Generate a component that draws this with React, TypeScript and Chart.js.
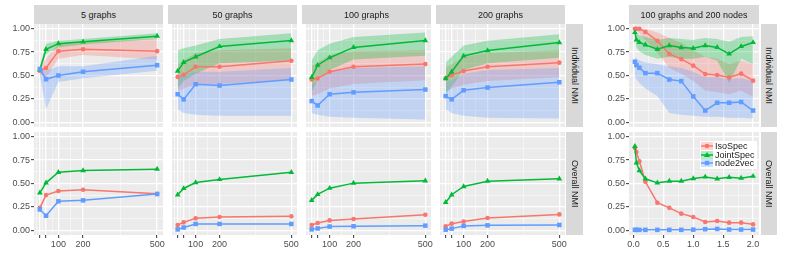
import React, { useEffect, useRef } from 'react';
import { Chart, registerables } from 'chart.js';

Chart.register(...registerables);

// ---------------- data ----------------
const GRAPH_SIZES = [25, 50, 100, 200, 500];
const LAMBDAS = [0.025, 0.05, 0.1, 0.2, 0.4, 0.6, 0.8, 1.0, 1.2, 1.4, 1.6, 1.8, 2.0];

const COLUMN_TITLES = ['5 graphs', '50 graphs', '100 graphs', '200 graphs'];
const RIGHT_TITLE = '100 graphs and 200 nodes';
const ROW_TITLES = ['Individual NMI', 'Overall NMI'];
const METHODS = ['IsoSpec', 'JointSpec', 'node2vec'];

const Y_MAJOR = [0, 0.25, 0.5, 0.75, 1];
const Y_MINOR = [0.125, 0.375, 0.625, 0.875];
const SIZE_MAJOR = [25, 50, 100, 200, 500];
const SIZE_LABELED = [100, 200, 500];
const SIZE_MINOR = [12.5, 37.5, 75, 150, 350];
const LAMBDA_MAJOR = [0, 0.5, 1, 1.5, 2];
const LAMBDA_MINOR = [0.25, 0.75, 1.25, 1.75];

// Individual NMI, 5 graphs
const iso5 = [0.55, 0.58, 0.76, 0.78, 0.76];
const iso5Lo = [0.51, 0.48, 0.68, 0.72, 0.67];
const iso5Hi = [0.58, 0.68, 0.84, 0.86, 0.89];
const joint5 = [0.56, 0.78, 0.84, 0.86, 0.92];
const joint5Lo = [0.54, 0.73, 0.8, 0.83, 0.89];
const joint5Hi = [0.6, 0.84, 0.87, 0.89, 0.95];
const n2v5 = [0.57, 0.46, 0.5, 0.54, 0.61];
const n2v5Lo = [0.5, 0.14, 0.43, 0.47, 0.55];
const n2v5Hi = [0.61, 0.55, 0.6, 0.6, 0.71];

// Individual NMI, 50 graphs
const iso50 = [0.485, 0.507, 0.593, 0.593, 0.658];
const iso50Lo = [0.33, 0.36, 0.4, 0.41, 0.45];
const iso50Hi = [0.62, 0.66, 0.74, 0.77, 0.79];
const joint50 = [0.547, 0.64, 0.7, 0.81, 0.874];
const joint50Lo = [0.36, 0.44, 0.52, 0.63, 0.66];
const joint50Hi = [0.77, 0.79, 0.82, 0.89, 0.95];
const n2v50 = [0.3, 0.245, 0.407, 0.393, 0.457];
const n2v50Lo = [0.14, 0.1, 0.08, 0.07, 0.07];
const n2v50Hi = [0.48, 0.5, 0.54, 0.54, 0.58];

// Individual NMI, 100 graphs
const iso100 = [0.457, 0.468, 0.54, 0.593, 0.622];
const iso100Lo = [0.28, 0.3, 0.36, 0.41, 0.45];
const iso100Hi = [0.6, 0.64, 0.72, 0.76, 0.77];
const joint100 = [0.48, 0.61, 0.69, 0.8, 0.874];
const joint100Lo = [0.33, 0.45, 0.56, 0.67, 0.71];
const joint100Hi = [0.66, 0.77, 0.84, 0.91, 0.96];
const n2v100 = [0.227, 0.18, 0.3, 0.32, 0.35];
const n2v100Lo = [0.1, 0.08, 0.06, 0.05, 0.03];
const n2v100Hi = [0.4, 0.44, 0.54, 0.58, 0.6];

// Individual NMI, 200 graphs
const iso200 = [0.47, 0.504, 0.547, 0.593, 0.637];
const iso200Lo = [0.33, 0.36, 0.4, 0.44, 0.48];
const iso200Hi = [0.58, 0.62, 0.7, 0.74, 0.77];
const joint200 = [0.468, 0.54, 0.709, 0.766, 0.852];
const joint200Lo = [0.3, 0.38, 0.56, 0.63, 0.69];
const joint200Hi = [0.64, 0.7, 0.82, 0.87, 0.94];
const n2v200 = [0.28, 0.245, 0.342, 0.371, 0.428];
const n2v200Lo = [0.14, 0.1, 0.07, 0.05, 0.04];
const n2v200Hi = [0.42, 0.45, 0.52, 0.56, 0.58];

// Overall NMI
const iso5Overall = [0.24, 0.376, 0.42, 0.433, 0.39];
const joint5Overall = [0.4, 0.507, 0.62, 0.638, 0.653];
const n2v5Overall = [0.223, 0.156, 0.31, 0.32, 0.387];
const iso50Overall = [0.057, 0.085, 0.128, 0.142, 0.149];
const joint50Overall = [0.38, 0.447, 0.51, 0.543, 0.62];
const n2v50Overall = [0.01, 0.03, 0.068, 0.068, 0.068];
const iso100Overall = [0.057, 0.078, 0.106, 0.121, 0.167];
const joint100Overall = [0.32, 0.383, 0.45, 0.504, 0.529];
const n2v100Overall = [0.01, 0.02, 0.04, 0.043, 0.05];
const iso200Overall = [0.043, 0.071, 0.093, 0.132, 0.17];
const joint200Overall = [0.298, 0.38, 0.468, 0.525, 0.55];
const n2v200Overall = [0.007, 0.018, 0.047, 0.053, 0.057];

// 100 graphs and 200 nodes (x = lambda)
const isoLam = [1.0, 1.0, 1.0, 0.965, 0.87, 0.73, 0.675, 0.605, 0.515, 0.505, 0.48, 0.52, 0.445];
const isoLamLo = [0.99, 0.98, 0.95, 0.88, 0.74, 0.58, 0.52, 0.44, 0.34, 0.32, 0.3, 0.34, 0.27];
const isoLamHi = [1.0, 1.0, 1.0, 1.0, 0.96, 0.9, 0.85, 0.77, 0.7, 0.68, 0.62, 0.66, 0.62];
const jointLam = [0.96, 0.88, 0.853, 0.827, 0.78, 0.82, 0.798, 0.791, 0.82, 0.8, 0.73, 0.81, 0.853];
const jointLamLo = [0.92, 0.8, 0.76, 0.72, 0.68, 0.7, 0.68, 0.68, 0.7, 0.66, 0.42, 0.68, 0.62];
const jointLamHi = [0.98, 0.95, 0.93, 0.91, 0.88, 0.9, 0.89, 0.88, 0.9, 0.89, 0.86, 0.91, 0.92];
const n2vLam = [0.647, 0.611, 0.583, 0.525, 0.525, 0.457, 0.44, 0.277, 0.126, 0.209, 0.209, 0.217, 0.126];
const n2vLamLo = [0.5, 0.46, 0.42, 0.36, 0.28, 0.1, 0.08, 0.07, 0.06, 0.06, 0.05, 0.05, 0.04];
const n2vLamHi = [0.7, 0.68, 0.66, 0.64, 0.62, 0.6, 0.58, 0.54, 0.48, 0.48, 0.46, 0.47, 0.44];
const isoLamOverall = [0.88, 0.837, 0.738, 0.518, 0.295, 0.24, 0.178, 0.143, 0.089, 0.1, 0.082, 0.082, 0.064];
const jointLamOverall = [0.898, 0.72, 0.638, 0.55, 0.507, 0.525, 0.525, 0.553, 0.57, 0.55, 0.567, 0.557, 0.578];
const n2vLamOverall = [0.005, 0.005, 0.005, 0.005, 0.005, 0.005, 0.005, 0.007, 0.012, 0.015, 0.008, 0.008, 0.008];

// ---------------- style ----------------
const FONT = '"Liberation Sans", Arial, Helvetica, sans-serif';
const COLORS = ['#F8766D', '#00BA38', '#619CFF'];
const RIBBON = ['rgba(248,118,109,0.3)', 'rgba(0,186,56,0.3)', 'rgba(97,156,255,0.3)'];
const SHAPES = ['circle', 'triangle', 'rect'];
const RADII = [2.3, 3.3, 3.2];

const COL_LEFT = [34, 168, 302, 436];
const PANEL_W = 129;
const ROW_TOP = [24, 132];
const PANEL_H = 103;
const RIGHT_LEFT = 629;
const RIGHT_W = 130;
const PAD_T = 8;
const PAD_R = 12;
const PAD_B = 8;
const AXIS_W = 34;
const AXIS_H = 22;

type S = { mean: number[]; lo?: number[]; hi?: number[] };
type PanelDef = {
  left: number;
  top: number;
  width: number;
  height: number;
  showY: boolean;
  showX: boolean;
  x: number[];
  xMajor: number[];
  xMinor: number[];
  xLabeled: number[];
  xDigits: number;
  series: S[];
};

const near = (a: number, list: number[]) => list.some((v) => Math.abs(v - a) < 1e-9);

const bgPlugin = {
  id: 'panelBg',
  beforeDraw(chart: any) {
    const { ctx, chartArea } = chart;
    ctx.save();
    ctx.fillStyle = '#EBEBEB';
    ctx.fillRect(chartArea.left, chartArea.top, chartArea.right - chartArea.left, chartArea.bottom - chartArea.top);
    ctx.restore();
  },
};

function Panel({ def }: { def: PanelDef }) {
  const ref = useRef<HTMLCanvasElement>(null);
  const W = def.showY ? AXIS_W : 0;
  const H = def.showX ? AXIS_H : 0;
  const cw = W + def.width + PAD_R;
  const ch = PAD_T + def.height + H + PAD_B;

  useEffect(() => {
    if (!ref.current) return;
    const xs = def.x;
    const xmin = Math.min(...xs);
    const xmax = Math.max(...xs);
    const span = xmax - xmin;
    const pts = (vals: number[]) => xs.map((x, i) => ({ x, y: vals[i] }));
    const datasets: any[] = [];
    def.series.forEach((s, k) => {
      if (s.lo && s.hi) {
        datasets.push({
          label: METHODS[k] + ' upper',
          data: pts(s.hi),
          fill: '+1',
          backgroundColor: RIBBON[k],
          borderColor: 'rgba(0,0,0,0)',
          borderWidth: 0,
          pointRadius: 0,
          order: 13 - k,
        });
        datasets.push({
          label: METHODS[k] + ' lower',
          data: pts(s.lo),
          fill: false,
          backgroundColor: 'rgba(0,0,0,0)',
          borderColor: 'rgba(0,0,0,0)',
          borderWidth: 0,
          pointRadius: 0,
          order: 13 - k,
        });
      }
    });
    def.series.forEach((s, k) => {
      datasets.push({
        label: METHODS[k],
        data: pts(s.mean),
        fill: false,
        borderColor: COLORS[k],
        backgroundColor: COLORS[k],
        borderWidth: 1.5,
        pointStyle: SHAPES[k],
        pointRadius: RADII[k],
        pointBorderWidth: 0,
        pointBackgroundColor: COLORS[k],
        order: 3 - k,
      });
    });

    const chart = new Chart(ref.current, {
      type: 'line',
      data: { datasets },
      plugins: [bgPlugin],
      options: {
        responsive: false,
        maintainAspectRatio: false,
        animation: false,
        events: [],
        layout: { padding: { left: 0, top: PAD_T, right: PAD_R, bottom: PAD_B } },
        plugins: { legend: { display: false }, tooltip: { enabled: false } },
        elements: { line: { tension: 0 } },
        scales: {
          x: {
            type: 'linear',
            bounds: 'data',
            min: xmin - 0.05 * span,
            max: xmax + 0.05 * span,
            border: { display: false },
            afterBuildTicks: (sc: any) => {
              sc.ticks = [...def.xMajor, ...def.xMinor]
                .filter((v) => v >= sc.min && v <= sc.max)
                .sort((a, b) => a - b)
                .map((v) => ({ value: v }));
            },
            afterFit: (sc: any) => {
              sc.height = H;
            },
            grid: {
              drawTicks: def.showX,
              tickLength: 3,
              tickWidth: 1,
              tickColor: (c: any) => (c.tick && near(c.tick.value, def.xMajor) ? '#333333' : 'rgba(0,0,0,0)'),
              color: (c: any) => (c.tick && near(c.tick.value, def.xMajor) ? '#FFFFFF' : 'rgba(255,255,255,0.75)'),
              lineWidth: (c: any) => (c.tick && near(c.tick.value, def.xMajor) ? 1.3 : 0.7),
            },
            ticks: {
              display: def.showX,
              autoSkip: false,
              maxRotation: 0,
              minRotation: 0,
              padding: 1,
              color: '#4D4D4D',
              font: { family: FONT, size: 9 },
              callback: (v: any) => (near(Number(v), def.xLabeled) ? Number(v).toFixed(def.xDigits) : ''),
            },
          },
          y: {
            type: 'linear',
            bounds: 'data',
            min: -0.05,
            max: 1.05,
            border: { display: false },
            afterBuildTicks: (sc: any) => {
              sc.ticks = [...Y_MAJOR, ...Y_MINOR].sort((a, b) => a - b).map((v) => ({ value: v }));
            },
            afterFit: (sc: any) => {
              sc.width = W;
            },
            grid: {
              drawTicks: def.showY,
              tickLength: 3,
              tickWidth: 1,
              tickColor: (c: any) => (c.tick && near(c.tick.value, Y_MAJOR) ? '#333333' : 'rgba(0,0,0,0)'),
              color: (c: any) => (c.tick && near(c.tick.value, Y_MAJOR) ? '#FFFFFF' : 'rgba(255,255,255,0.75)'),
              lineWidth: (c: any) => (c.tick && near(c.tick.value, Y_MAJOR) ? 1.3 : 0.7),
            },
            ticks: {
              display: def.showY,
              autoSkip: false,
              padding: 1,
              color: '#4D4D4D',
              font: { family: FONT, size: 9 },
              callback: (v: any) => (near(Number(v), Y_MAJOR) ? Number(v).toFixed(2) : ''),
            },
          },
        },
      } as any,
    });
    return () => chart.destroy();
  }, []);

  return (
    <canvas
      ref={ref}
      width={cw}
      height={ch}
      style={{ position: 'absolute', left: def.left - W, top: def.top - PAD_T, width: cw, height: ch }}
    />
  );
}

const sizeSeries: S[][][] = [
  [
    [
      { mean: iso5, lo: iso5Lo, hi: iso5Hi },
      { mean: joint5, lo: joint5Lo, hi: joint5Hi },
      { mean: n2v5, lo: n2v5Lo, hi: n2v5Hi },
    ],
    [
      { mean: iso50, lo: iso50Lo, hi: iso50Hi },
      { mean: joint50, lo: joint50Lo, hi: joint50Hi },
      { mean: n2v50, lo: n2v50Lo, hi: n2v50Hi },
    ],
    [
      { mean: iso100, lo: iso100Lo, hi: iso100Hi },
      { mean: joint100, lo: joint100Lo, hi: joint100Hi },
      { mean: n2v100, lo: n2v100Lo, hi: n2v100Hi },
    ],
    [
      { mean: iso200, lo: iso200Lo, hi: iso200Hi },
      { mean: joint200, lo: joint200Lo, hi: joint200Hi },
      { mean: n2v200, lo: n2v200Lo, hi: n2v200Hi },
    ],
  ],
  [
    [{ mean: iso5Overall }, { mean: joint5Overall }, { mean: n2v5Overall }],
    [{ mean: iso50Overall }, { mean: joint50Overall }, { mean: n2v50Overall }],
    [{ mean: iso100Overall }, { mean: joint100Overall }, { mean: n2v100Overall }],
    [{ mean: iso200Overall }, { mean: joint200Overall }, { mean: n2v200Overall }],
  ],
];

const lambdaSeries: S[][] = [
  [
    { mean: isoLam, lo: isoLamLo, hi: isoLamHi },
    { mean: jointLam, lo: jointLamLo, hi: jointLamHi },
    { mean: n2vLam, lo: n2vLamLo, hi: n2vLamHi },
  ],
  [{ mean: isoLamOverall }, { mean: jointLamOverall }, { mean: n2vLamOverall }],
];

const stripText: React.CSSProperties = {
  position: 'absolute',
  background: '#D9D9D9',
  color: '#1A1A1A',
  fontFamily: FONT,
  fontSize: 9,
  display: 'flex',
  alignItems: 'center',
  justifyContent: 'center',
  whiteSpace: 'nowrap',
  overflow: 'hidden',
};

function LegendKey({ k }: { k: number }) {
  const c = COLORS[k];
  return (
    <svg width={12} height={8} style={{ display: 'block', marginRight: 2 }}>
      <rect x={0} y={0} width={12} height={8} fill={RIBBON[k]} />
      <line x1={0} y1={4} x2={12} y2={4} stroke={c} strokeWidth={1.5} />
      {k === 0 && <circle cx={6} cy={4} r={2.3} fill={c} />}
      {k === 1 && <polygon points="6,1 9,6 3,6" fill={c} />}
      {k === 2 && <rect x={3.8} y={1.8} width={4.4} height={4.4} fill={c} />}
    </svg>
  );
}

export default function App() {
  const panels: PanelDef[] = [];
  for (let r = 0; r < 2; r++) {
    for (let c = 0; c < 4; c++) {
      panels.push({
        left: COL_LEFT[c],
        top: ROW_TOP[r],
        width: PANEL_W,
        height: PANEL_H,
        showY: c === 0,
        showX: r === 1,
        x: GRAPH_SIZES,
        xMajor: SIZE_MAJOR,
        xMinor: SIZE_MINOR,
        xLabeled: SIZE_LABELED,
        xDigits: 0,
        series: sizeSeries[r][c],
      });
    }
    panels.push({
      left: RIGHT_LEFT,
      top: ROW_TOP[r],
      width: RIGHT_W,
      height: PANEL_H,
      showY: true,
      showX: r === 1,
      x: LAMBDAS,
      xMajor: LAMBDA_MAJOR,
      xMinor: LAMBDA_MINOR,
      xLabeled: LAMBDA_MAJOR,
      xDigits: 1,
      series: lambdaSeries[r],
    });
  }

  return (
    <div style={{ position: 'absolute', left: 0, top: 0, width: 789, height: 259, background: '#FFFFFF', overflow: 'hidden' }}>
      {panels.map((p, i) => (
        <Panel key={i} def={p} />
      ))}
      {COLUMN_TITLES.map((t, c) => (
        <div key={t} style={{ ...stripText, left: COL_LEFT[c], top: 5, width: PANEL_W, height: 19 }}>
          {t}
        </div>
      ))}
      <div style={{ ...stripText, left: RIGHT_LEFT, top: 5, width: RIGHT_W, height: 19 }}>{RIGHT_TITLE}</div>
      {ROW_TITLES.map((t, r) => (
        <React.Fragment key={t}>
          <div style={{ ...stripText, left: 566, top: ROW_TOP[r], width: 17, height: PANEL_H, writingMode: 'vertical-rl' }}>{t}</div>
          <div style={{ ...stripText, left: 761, top: ROW_TOP[r], width: 16, height: PANEL_H, writingMode: 'vertical-rl' }}>{t}</div>
        </React.Fragment>
      ))}
      <div
        style={{
          position: 'absolute',
          left: 700,
          top: 141,
          width: 57,
          height: 28,
          background: '#FFFFFF',
          fontFamily: FONT,
          fontSize: 9,
          color: '#1A1A1A',
          paddingTop: 1,
          boxSizing: 'border-box',
        }}
      >
        {METHODS.map((m, k) => (
          <div key={m} style={{ display: 'flex', alignItems: 'center', height: 8.5, paddingLeft: 1, lineHeight: '8.5px' }}>
            <LegendKey k={k} />
            <span>{m}</span>
          </div>
        ))}
      </div>
    </div>
  );
}
